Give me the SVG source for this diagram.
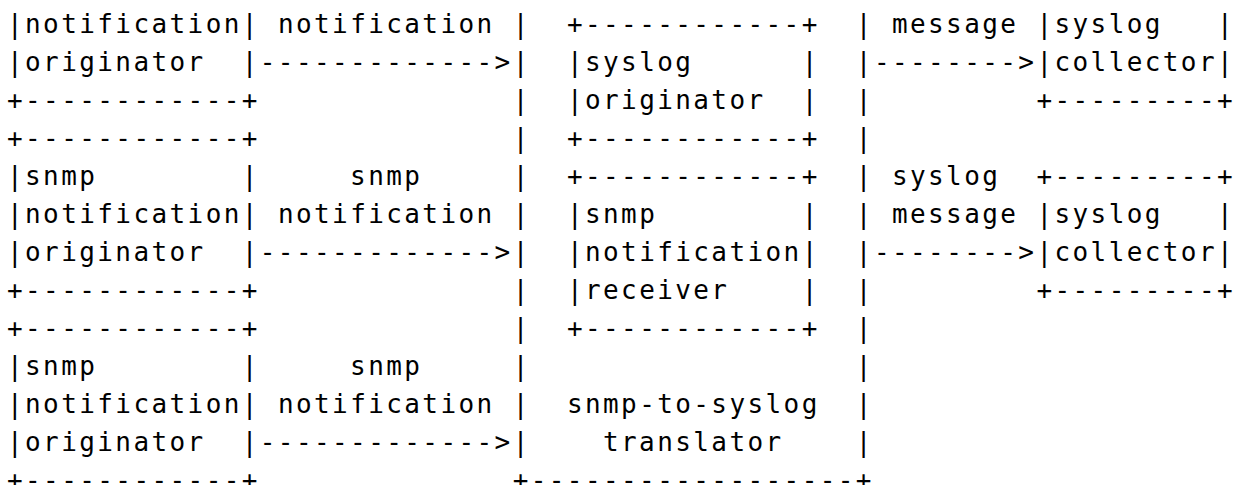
<svg xmlns="http://www.w3.org/2000/svg" width="1240" height="485" viewBox="0 0 1240 485">
<style>
text{font-family:"DejaVu Sans Mono","Liberation Mono",monospace;font-size:26px;letter-spacing:2.406px;fill:#000;white-space:pre}
</style>
<rect width="1240" height="485" fill="#fff"/>
<g id="notification-originator">
<text x="7" y="32.5">|notification|</text>
<text x="7" y="70.5">|originator  |</text>
<text x="7" y="108.5">+------------+</text>
</g>
<g id="snmp-originator-1">
<text x="7" y="146.5">+------------+</text>
<text x="7" y="184.5">|snmp        |</text>
<text x="7" y="222.5">|notification|</text>
<text x="7" y="260.5">|originator  |</text>
<text x="7" y="298.5">+------------+</text>
</g>
<g id="snmp-originator-2">
<text x="7" y="336.5">+------------+</text>
<text x="7" y="374.5">|snmp        |</text>
<text x="7" y="412.5">|notification|</text>
<text x="7" y="450.5">|originator  |</text>
<text x="7" y="488.5">+------------+</text>
</g>
<g id="translator">
<text x="512.7" y="32.5">|</text><text x="855.8" y="32.5">|</text>
<text x="512.7" y="70.5">|</text><text x="855.8" y="70.5">|</text>
<text x="512.7" y="108.5">|</text><text x="855.8" y="108.5">|</text>
<text x="512.7" y="146.5">|</text><text x="855.8" y="146.5">|</text>
<text x="512.7" y="184.5">|</text><text x="855.8" y="184.5">|</text>
<text x="512.7" y="222.5">|</text><text x="855.8" y="222.5">|</text>
<text x="512.7" y="260.5">|</text><text x="855.8" y="260.5">|</text>
<text x="512.7" y="298.5">|</text><text x="855.8" y="298.5">|</text>
<text x="512.7" y="336.5">|</text><text x="855.8" y="336.5">|</text>
<text x="512.7" y="374.5">|</text><text x="855.8" y="374.5">|</text>
<text x="512.7" y="412.5">|</text><text x="855.8" y="412.5">|</text>
<text x="512.7" y="450.5">|</text><text x="855.8" y="450.5">|</text>
<text x="566.9" y="412.5">snmp-to-syslog</text>
<text x="603" y="450.5">translator</text>
<text x="512.7" y="488.5">+------------------+</text>
</g>
<g id="syslog-originator">
<text x="566.9" y="32.5">+------------+</text>
<text x="566.9" y="70.5">|syslog      |</text>
<text x="566.9" y="108.5">|originator  |</text>
<text x="566.9" y="146.5">+------------+</text>
</g>
<g id="snmp-notification-receiver">
<text x="566.9" y="184.5">+------------+</text>
<text x="566.9" y="222.5">|snmp        |</text>
<text x="566.9" y="260.5">|notification|</text>
<text x="566.9" y="298.5">|receiver    |</text>
<text x="566.9" y="336.5">+------------+</text>
</g>
<g id="syslog-collector-1">
<text x="1036.4" y="32.5">|syslog   |</text>
<text x="1036.4" y="70.5">|collector|</text>
<text x="1036.4" y="108.5">+---------+</text>
</g>
<g id="syslog-collector-2">
<text x="1036.4" y="184.5">+---------+</text>
<text x="1036.4" y="222.5">|syslog   |</text>
<text x="1036.4" y="260.5">|collector|</text>
<text x="1036.4" y="298.5">+---------+</text>
</g>
<g id="connectors">
<text x="277.9" y="32.5">notification</text>
<text x="259.8" y="70.5">-------------&gt;</text>
<text x="350.1" y="184.5">snmp</text>
<text x="277.9" y="222.5">notification</text>
<text x="259.8" y="260.5">-------------&gt;</text>
<text x="350.1" y="374.5">snmp</text>
<text x="277.9" y="412.5">notification</text>
<text x="259.8" y="450.5">-------------&gt;</text>
<text x="891.9" y="32.5">message</text>
<text x="873.9" y="70.5">--------&gt;</text>
<text x="891.9" y="184.5">syslog</text>
<text x="891.9" y="222.5">message</text>
<text x="873.9" y="260.5">--------&gt;</text>
</g>
</svg>
